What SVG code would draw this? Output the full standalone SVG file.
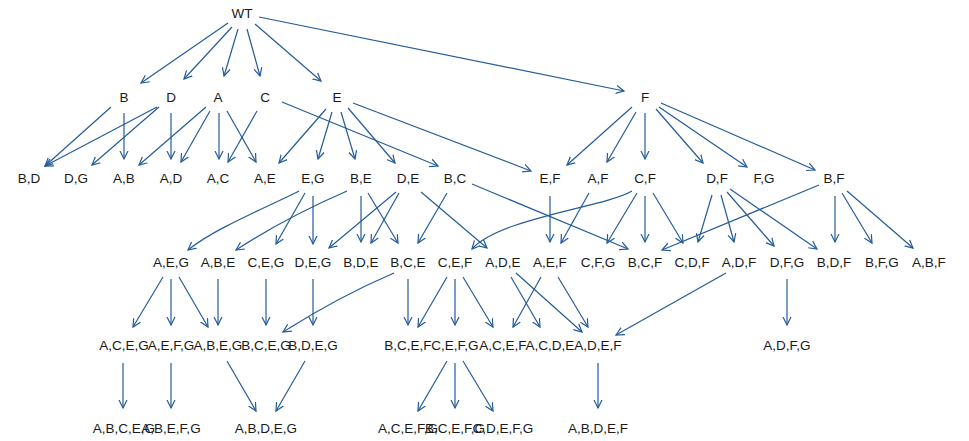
<svg xmlns="http://www.w3.org/2000/svg" width="969" height="441" viewBox="0 0 969 441">
<style>
text{font-family:"Liberation Sans",Arial,sans-serif;font-size:13.5px;fill:#1a1a1a;text-anchor:middle}
.e path,.e line{stroke:#245c98;stroke-width:1.2;fill:none;marker-end:url(#ah)}
</style>
<defs>
<marker id="ah" markerUnits="userSpaceOnUse" markerWidth="10" markerHeight="10" refX="8" refY="4" orient="auto" viewBox="0 0 10 8">
<path d="M0,0 L8,4 L0,8" fill="none" stroke="#245c98" stroke-width="1.2"/>
</marker>
</defs>
<rect width="969" height="441" fill="#fff"/>
<g class="e" id="edges">
<line x1="228" y1="23" x2="141" y2="83"/>
<line x1="232" y1="27" x2="184" y2="79"/>
<line x1="238" y1="29" x2="224" y2="76"/>
<line x1="247" y1="29" x2="260" y2="76"/>
<line x1="255" y1="24" x2="321" y2="81"/>
<line x1="259" y1="17" x2="624" y2="91"/>
<line x1="111" y1="107" x2="45" y2="166"/>
<line x1="124" y1="113" x2="124" y2="159"/>
<line x1="157" y1="107" x2="45" y2="166"/>
<line x1="159" y1="107" x2="92" y2="165"/>
<line x1="171" y1="113" x2="171" y2="159"/>
<line x1="206" y1="107" x2="139" y2="165"/>
<line x1="210" y1="111" x2="181" y2="162"/>
<line x1="219" y1="113" x2="219" y2="159"/>
<line x1="227" y1="111" x2="256" y2="162"/>
<line x1="257" y1="111" x2="228" y2="162"/>
<line x1="282" y1="102" x2="438" y2="166"/>
<line x1="326" y1="109" x2="279" y2="163"/>
<line x1="332" y1="112" x2="318" y2="159"/>
<line x1="341" y1="112" x2="355" y2="159"/>
<line x1="348" y1="108" x2="395" y2="163"/>
<line x1="353" y1="103" x2="531" y2="171"/>
<line x1="632" y1="107" x2="567" y2="165"/>
<line x1="636" y1="112" x2="607" y2="162"/>
<line x1="645" y1="113" x2="645" y2="159"/>
<line x1="656" y1="109" x2="703" y2="163"/>
<line x1="659" y1="107" x2="747" y2="167"/>
<line x1="661" y1="103" x2="815" y2="170"/>
<path d="M299,191 C270,206 215,228 188,250"/>
<line x1="305" y1="193" x2="276" y2="244"/>
<line x1="313" y1="196" x2="313" y2="244"/>
<path d="M347,191 Q285,218 236,250"/>
<line x1="361" y1="196" x2="361" y2="242"/>
<line x1="368" y1="193" x2="398" y2="243"/>
<line x1="396" y1="192" x2="329" y2="248"/>
<line x1="399" y1="193" x2="371" y2="243"/>
<line x1="421" y1="192" x2="487" y2="248"/>
<line x1="447" y1="193" x2="418" y2="243"/>
<line x1="472" y1="184" x2="628" y2="249"/>
<line x1="550" y1="196" x2="550" y2="242"/>
<line x1="589" y1="193" x2="561" y2="243"/>
<path d="M632,191 C605,207 500,218 472,249"/>
<line x1="637" y1="193" x2="607" y2="243"/>
<line x1="645" y1="196" x2="645" y2="242"/>
<line x1="653" y1="193" x2="683" y2="243"/>
<line x1="712" y1="195" x2="698" y2="242"/>
<line x1="721" y1="195" x2="734" y2="242"/>
<line x1="727" y1="192" x2="774" y2="246"/>
<line x1="730" y1="189" x2="817" y2="249"/>
<line x1="819" y1="185" x2="662" y2="250"/>
<line x1="835" y1="196" x2="835" y2="242"/>
<line x1="842" y1="193" x2="872" y2="243"/>
<line x1="847" y1="191" x2="913" y2="248"/>
<line x1="163" y1="277" x2="133" y2="327"/>
<line x1="171" y1="279" x2="171" y2="325"/>
<line x1="179" y1="277" x2="208" y2="327"/>
<line x1="218" y1="279" x2="218" y2="325"/>
<line x1="266" y1="279" x2="266" y2="325"/>
<line x1="313" y1="279" x2="313" y2="325"/>
<path d="M394,273 Q340,296 283,332"/>
<line x1="408" y1="279" x2="408" y2="325"/>
<line x1="447" y1="277" x2="418" y2="327"/>
<line x1="455" y1="279" x2="455" y2="325"/>
<line x1="463" y1="277" x2="493" y2="327"/>
<line x1="511" y1="277" x2="540" y2="327"/>
<line x1="516" y1="273" x2="582" y2="332"/>
<line x1="541" y1="277" x2="513" y2="327"/>
<line x1="558" y1="277" x2="588" y2="327"/>
<line x1="726" y1="273" x2="616" y2="335"/>
<line x1="787" y1="279" x2="787" y2="325"/>
<line x1="123" y1="363" x2="123" y2="408"/>
<line x1="171" y1="363" x2="171" y2="408"/>
<line x1="227" y1="361" x2="256" y2="411"/>
<line x1="305" y1="361" x2="276" y2="411"/>
<line x1="447" y1="361" x2="418" y2="411"/>
<line x1="455" y1="363" x2="455" y2="408"/>
<line x1="463" y1="361" x2="493" y2="411"/>
<line x1="598" y1="363" x2="598" y2="408"/>
</g>
<g id="n_WT"><text x="242" y="18">WT</text></g>
<g id="n_B"><text x="124" y="102">B</text></g>
<g id="n_D"><text x="171" y="102">D</text></g>
<g id="n_A"><text x="218" y="102">A</text></g>
<g id="n_C"><text x="265" y="102">C</text></g>
<g id="n_E"><text x="337" y="102">E</text></g>
<g id="n_F"><text x="645" y="102">F</text></g>
<g id="n_BD"><text x="29" y="183">B,D</text></g>
<g id="n_DG"><text x="76" y="183">D,G</text></g>
<g id="n_AB"><text x="124" y="183">A,B</text></g>
<g id="n_AD"><text x="171" y="183">A,D</text></g>
<g id="n_AC"><text x="218" y="183">A,C</text></g>
<g id="n_AE"><text x="265" y="183">A,E</text></g>
<g id="n_EG"><text x="313" y="183">E,G</text></g>
<g id="n_BE"><text x="361" y="183">B,E</text></g>
<g id="n_DE"><text x="408" y="183">D,E</text></g>
<g id="n_BC"><text x="455" y="183">B,C</text></g>
<g id="n_EF"><text x="550" y="183">E,F</text></g>
<g id="n_AF"><text x="598" y="183">A,F</text></g>
<g id="n_CF"><text x="645" y="183">C,F</text></g>
<g id="n_DF"><text x="717" y="183">D,F</text></g>
<g id="n_FG"><text x="764" y="183">F,G</text></g>
<g id="n_BF"><text x="834" y="183">B,F</text></g>
<g id="n_AEG"><text x="171" y="267">A,E,G</text></g>
<g id="n_ABE"><text x="218" y="267">A,B,E</text></g>
<g id="n_CEG"><text x="266" y="267">C,E,G</text></g>
<g id="n_DEG"><text x="313" y="267">D,E,G</text></g>
<g id="n_BDE"><text x="361" y="267">B,D,E</text></g>
<g id="n_BCE"><text x="408" y="267">B,C,E</text></g>
<g id="n_CEF"><text x="455" y="267">C,E,F</text></g>
<g id="n_ADE"><text x="503" y="267">A,D,E</text></g>
<g id="n_AEF"><text x="550" y="267">A,E,F</text></g>
<g id="n_CFG"><text x="598" y="267">C,F,G</text></g>
<g id="n_BCF"><text x="645" y="267">B,C,F</text></g>
<g id="n_CDF"><text x="692" y="267">C,D,F</text></g>
<g id="n_ADF"><text x="739" y="267">A,D,F</text></g>
<g id="n_DFG"><text x="787" y="267">D,F,G</text></g>
<g id="n_BDF"><text x="834" y="267">B,D,F</text></g>
<g id="n_BFG"><text x="882" y="267">B,F,G</text></g>
<g id="n_ABF"><text x="929" y="267">A,B,F</text></g>
<g id="n_ACEG"><text x="124" y="350">A,C,E,G</text></g>
<g id="n_AEFG"><text x="171" y="350">A,E,F,G</text></g>
<g id="n_ABEG"><text x="218" y="350">A,B,E,G</text></g>
<g id="n_BCEG"><text x="266" y="350">B,C,E,G</text></g>
<g id="n_BDEG"><text x="313" y="350">B,D,E,G</text></g>
<g id="n_BCEF"><text x="408" y="350">B,C,E,F</text></g>
<g id="n_CEFG"><text x="455" y="350">C,E,F,G</text></g>
<g id="n_ACEF"><text x="503" y="350">A,C,E,F</text></g>
<g id="n_ACDE"><text x="550" y="350">A,C,D,E</text></g>
<g id="n_ADEF"><text x="598" y="350">A,D,E,F</text></g>
<g id="n_ADFG"><text x="787" y="350">A,D,F,G</text></g>
<g id="n_ABCEG"><text x="124" y="433">A,B,C,E,G</text></g>
<g id="n_ABEFG"><text x="171" y="433">A,B,E,F,G</text></g>
<g id="n_ABDEG"><text x="266" y="433">A,B,D,E,G</text></g>
<g id="n_ACEFG"><text x="408" y="433">A,C,E,F,G</text></g>
<g id="n_BCEFG"><text x="455" y="433">B,C,E,F,G</text></g>
<g id="n_CDEFG"><text x="503" y="433">C,D,E,F,G</text></g>
<g id="n_ABDEF"><text x="598" y="433">A,B,D,E,F</text></g>
</svg>
